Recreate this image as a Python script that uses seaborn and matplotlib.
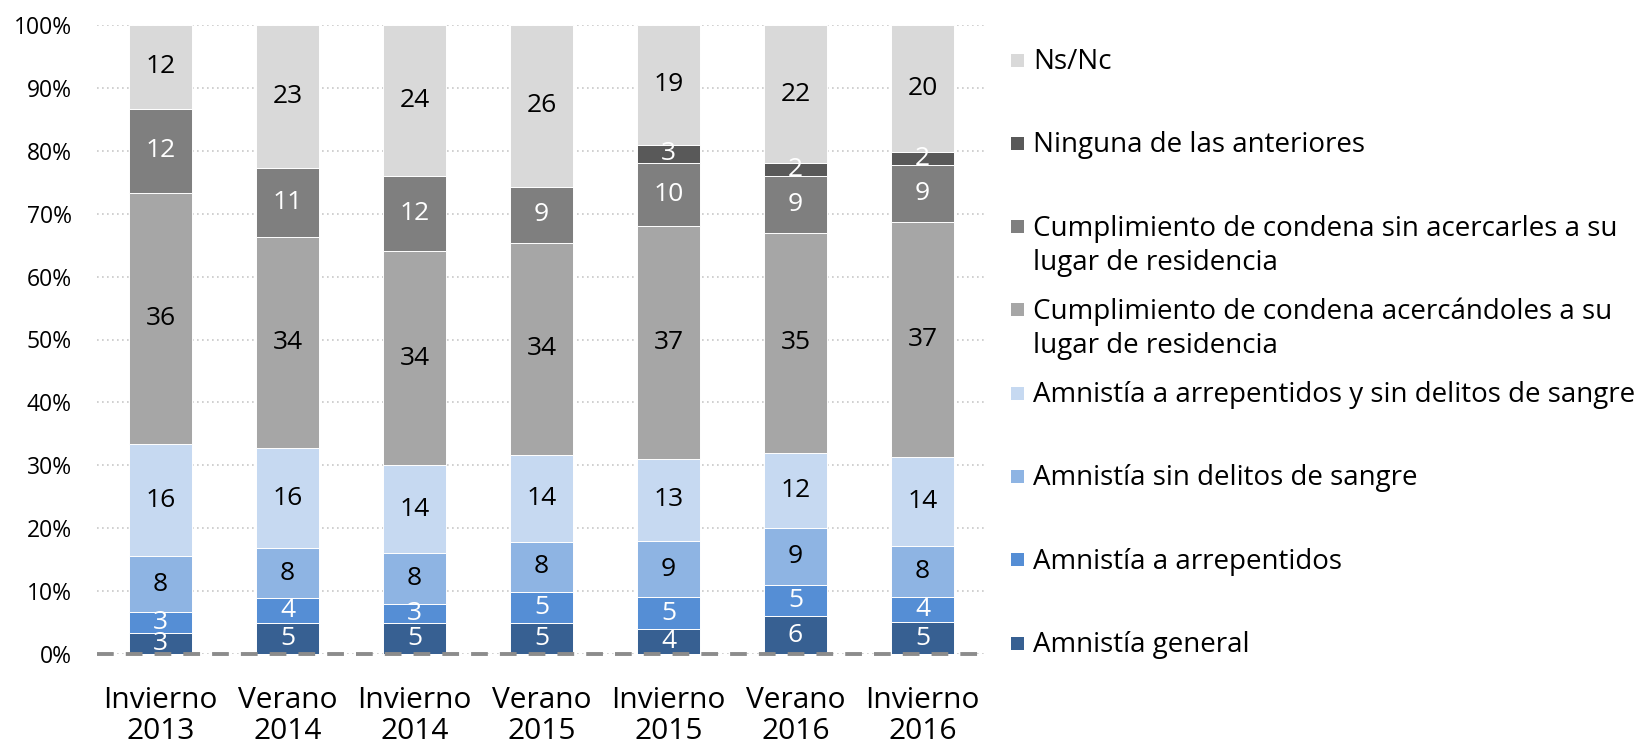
import numpy as np
import pandas as pd
import matplotlib
matplotlib.use("Agg")
import matplotlib.pyplot as plt
from matplotlib.patches import Rectangle
import seaborn as sns

# Survey waves (x categories)
periods = ["Invierno\n2013", "Verano\n2014", "Invierno\n2014", "Verano\n2015",
           "Invierno\n2015", "Verano\n2016", "Invierno\n2016"]

# Answer options, stacked from bottom to top
series_names = [
    "Amnistía general",
    "Amnistía a arrepentidos",
    "Amnistía sin delitos de sangre",
    "Amnistía a arrepentidos y sin delitos de sangre",
    "Cumplimiento de condena acercándoles a su\nlugar de residencia",
    "Cumplimiento de condena sin acercarles a su\nlugar de residencia",
    "Ninguna de las anteriores",
    "Ns/Nc",
]

amnistia_general = [3, 5, 5, 5, 4, 6, 5]
amnistia_arrepentidos = [3, 4, 3, 5, 5, 5, 4]
amnistia_sin_sangre = [8, 8, 8, 8, 9, 9, 8]
amnistia_arrep_sin_sangre = [16, 16, 14, 14, 13, 12, 14]
condena_acercandoles = [36, 34, 34, 34, 37, 35, 37]
condena_sin_acercarles = [12, 11, 12, 9, 10, 9, 9]
ninguna = [0, 0, 0, 0, 3, 2, 2]
ns_nc = [12, 23, 24, 26, 19, 22, 20]

colors = ["#376092", "#558ED5", "#8EB4E3", "#C6D9F1",
          "#A6A6A6", "#7F7F7F", "#595959", "#D9D9D9"]
label_colors = ["white", "white", "black", "black",
                "black", "white", "white", "black"]

sns.set_theme(style="white")
plt.rcParams["font.family"] = ["Open Sans", "DejaVu Sans"]

W, H = 1649, 744
fig = plt.figure(figsize=(W / 100, H / 100), dpi=100)
ax = fig.add_axes([97 / W, (H - 654) / H, (986 - 97) / W, (654 - 25) / H])

values = np.array([amnistia_general, amnistia_arrepentidos, amnistia_sin_sangre,
                   amnistia_arrep_sin_sangre, condena_acercandoles,
                   condena_sin_acercarles, ninguna, ns_nc], dtype=float)
# 100% stacked: each wave normalised to its own total
shares = values / values.sum(axis=0) * 100
tops = np.cumsum(shares, axis=0)
bottoms = tops - shares

for k in range(len(series_names)):
    df = pd.DataFrame({"periodo": periods, "share": shares[k]})
    sns.barplot(data=df, x="periodo", y="share", order=periods, bottom=bottoms[k],
                color=colors[k], saturation=1, width=0.5, errorbar=None,
                edgecolor="white", linewidth=0.7, ax=ax, zorder=2)
    for i in range(len(periods)):
        if values[k, i] > 0:
            ax.text(i, bottoms[k, i] + shares[k, i] / 2, f"{int(values[k, i])}",
                    ha="center", va="center", color=label_colors[k],
                    fontsize=19, zorder=4)

ax.set_xlim(-0.5, len(periods) - 0.5)
ax.set_ylim(0, 100)
ax.set_yticks(np.arange(0, 101, 10))
ax.set_yticklabels([f"{v}%" for v in range(0, 101, 10)])
ax.set_xlabel("")
ax.set_ylabel("")
ax.tick_params(axis="y", length=0, pad=18, labelsize=16.5, labelcolor="black")
ax.tick_params(axis="x", length=0, pad=23, labelsize=21.5, labelcolor="black")
for lab in ax.get_xticklabels():
    lab.set_linespacing(1.1)

ax.yaxis.grid(True, linestyle=(0, (1, 2)), color="#C8C8C8", linewidth=1.2)
ax.set_axisbelow(True)
sns.despine(ax=ax, left=True, bottom=True)
ax.axhline(0, color="#8C8C8C", linewidth=2.8, dashes=(4.3, 3.1),
           clip_on=False, zorder=5)

# Legend, top to bottom; the swatch sits on the first line of each entry
line_gap = 34.5
for j, k in enumerate(range(len(series_names) - 1, -1, -1)):
    yc = 60 + j * 83.3
    fig.patches.append(Rectangle((1011 / W, 1 - (yc + 6.5) / H), 13 / W, 13 / H,
                                 transform=fig.transFigure, facecolor=colors[k],
                                 edgecolor="none", figure=fig))
    for li, line in enumerate(series_names[k].split("\n")):
        fig.text(1033 / W, 1 - (yc + 9 + li * line_gap) / H, line,
                 va="baseline", ha="left", fontsize=20, color="black")

fig.savefig("out.png", dpi=100)
